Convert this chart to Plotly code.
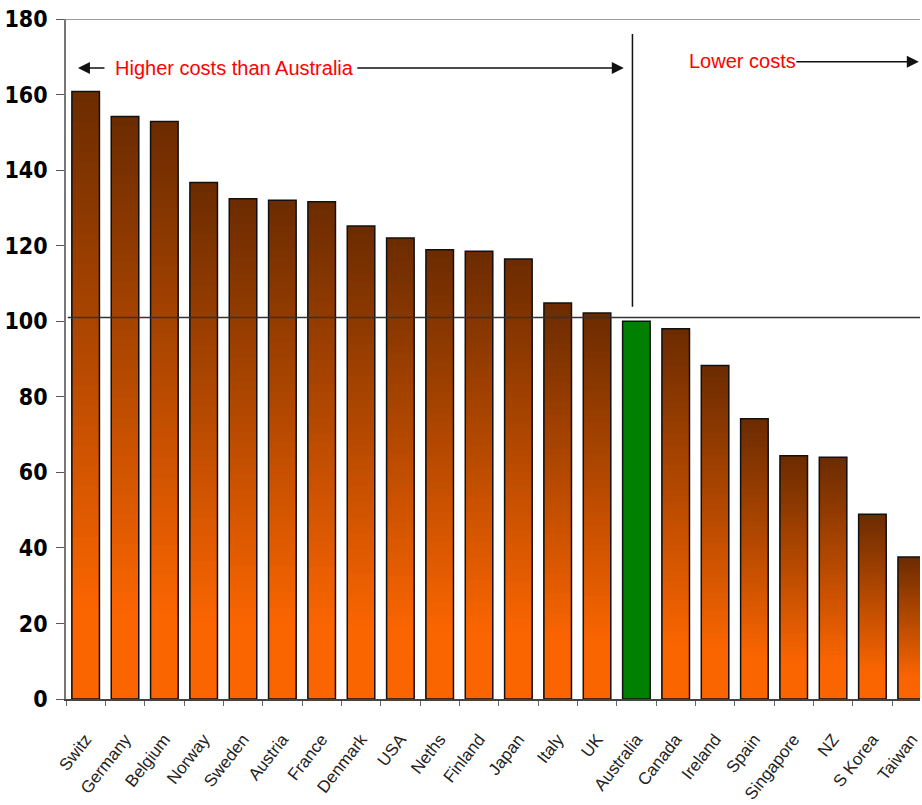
import plotly.graph_objects as go

countries = ["Switz", "Germany", "Belgium", "Norway", "Sweden", "Austria", "France",
             "Denmark", "USA", "Neths", "Finland", "Japan", "Italy", "UK", "Australia",
             "Canada", "Ireland", "Spain", "Singapore", "NZ", "S Korea", "Taiwan"]
values = [160.8, 154.2, 152.9, 136.7, 132.4, 132.0, 131.6, 125.2, 122.0, 118.9, 118.5,
          116.5, 104.8, 102.2, 100.0, 98.0, 88.3, 74.2, 64.4, 64.0, 48.9, 37.6]
highlight = "Australia"
ref_level = 101
y_ticks = [0, 20, 40, 60, 80, 100, 120, 140, 160, 180]

TOP = (0x6B, 0x2B, 0x00)
BOT = (0xFA, 0x65, 0x00)
GREEN = "#008000"
N = 60


def grad(f):
    t = max(0.0, (f - 0.15) / 0.85)
    c = [round(BOT[i] + (TOP[i] - BOT[i]) * t) for i in range(3)]
    return "rgb(%d,%d,%d)" % tuple(c)


fig = go.Figure()
for k in range(N):
    frac_top = (N - k) / N
    col = grad((N - k - 0.5) / N)
    fig.add_trace(go.Bar(
        x=countries,
        y=[v * frac_top for v in values],
        marker=dict(color=[GREEN if c == highlight else col for c in countries],
                    line=dict(width=0)),
        hoverinfo="skip", showlegend=False))

fig.add_trace(go.Bar(
    x=countries, y=values,
    marker=dict(color="rgba(0,0,0,0)", line=dict(color="#111111", width=1.5)),
    showlegend=False))

cond = "DejaVu Sans Condensed, Liberation Sans, sans-serif"
sans = "Liberation Sans, Arial, sans-serif"

fig.update_layout(
    width=922, height=805,
    margin=dict(l=66, r=0, t=19, b=106),
    barmode="overlay", bargap=0.3,
    plot_bgcolor="white", paper_bgcolor="white",
    xaxis=dict(range=[-0.5, 21.21], showline=True, linecolor="#444", linewidth=1.5,
               ticks="outside", tickson="boundaries", ticklen=5, tickcolor="#666",
               tickangle=-52, ticklabelstandoff=22,
               tickfont=dict(family=sans, size=17, color="#222"),
               showgrid=False, fixedrange=True),
    yaxis=dict(range=[0, 180], tickvals=y_ticks, showline=True, linecolor="#777", linewidth=1.5,
               ticks="outside", ticklen=8, tickcolor="#555", showgrid=False, zeroline=False,
               ticklabelstandoff=4,
               tickfont=dict(family=cond, size=23, color="black", weight="bold")),
)

# reference lines
fig.add_shape(type="line", xref="paper", x0=0, x1=1, yref="y", y0=180, y1=180,
              line=dict(color="#999", width=2))
fig.add_shape(type="line", xref="paper", x0=0.002, x1=1, yref="y", y0=ref_level, y1=ref_level,
              line=dict(color="#333", width=1.5))
fig.add_shape(type="line", xref="x", x0=13.9, x1=13.9, yref="y", y0=103.8, y1=176,
              line=dict(color="#111", width=1.5))

red = dict(family=sans, size=20, color="#FF0000")
fig.add_annotation(x=3.79, y=167, xref="x", yref="y", text="Higher costs than Australia",
                   showarrow=False, font=red)
fig.add_annotation(x=16.7, y=169, xref="x", yref="y", text="Lower costs",
                   showarrow=False, font=red)

arrow = dict(showarrow=True, arrowhead=2, arrowsize=1.6, arrowwidth=1.5, arrowcolor="#111",
             text="", xref="x", yref="y", ay=0, standoff=0)
fig.add_annotation(x=-0.196, y=167, ax=28, **arrow)
fig.add_annotation(x=13.68, y=167, ax=-268, **arrow)
fig.add_annotation(x=21.18, y=168.7, ax=-124, **arrow)

fig.write_html("out.html")
